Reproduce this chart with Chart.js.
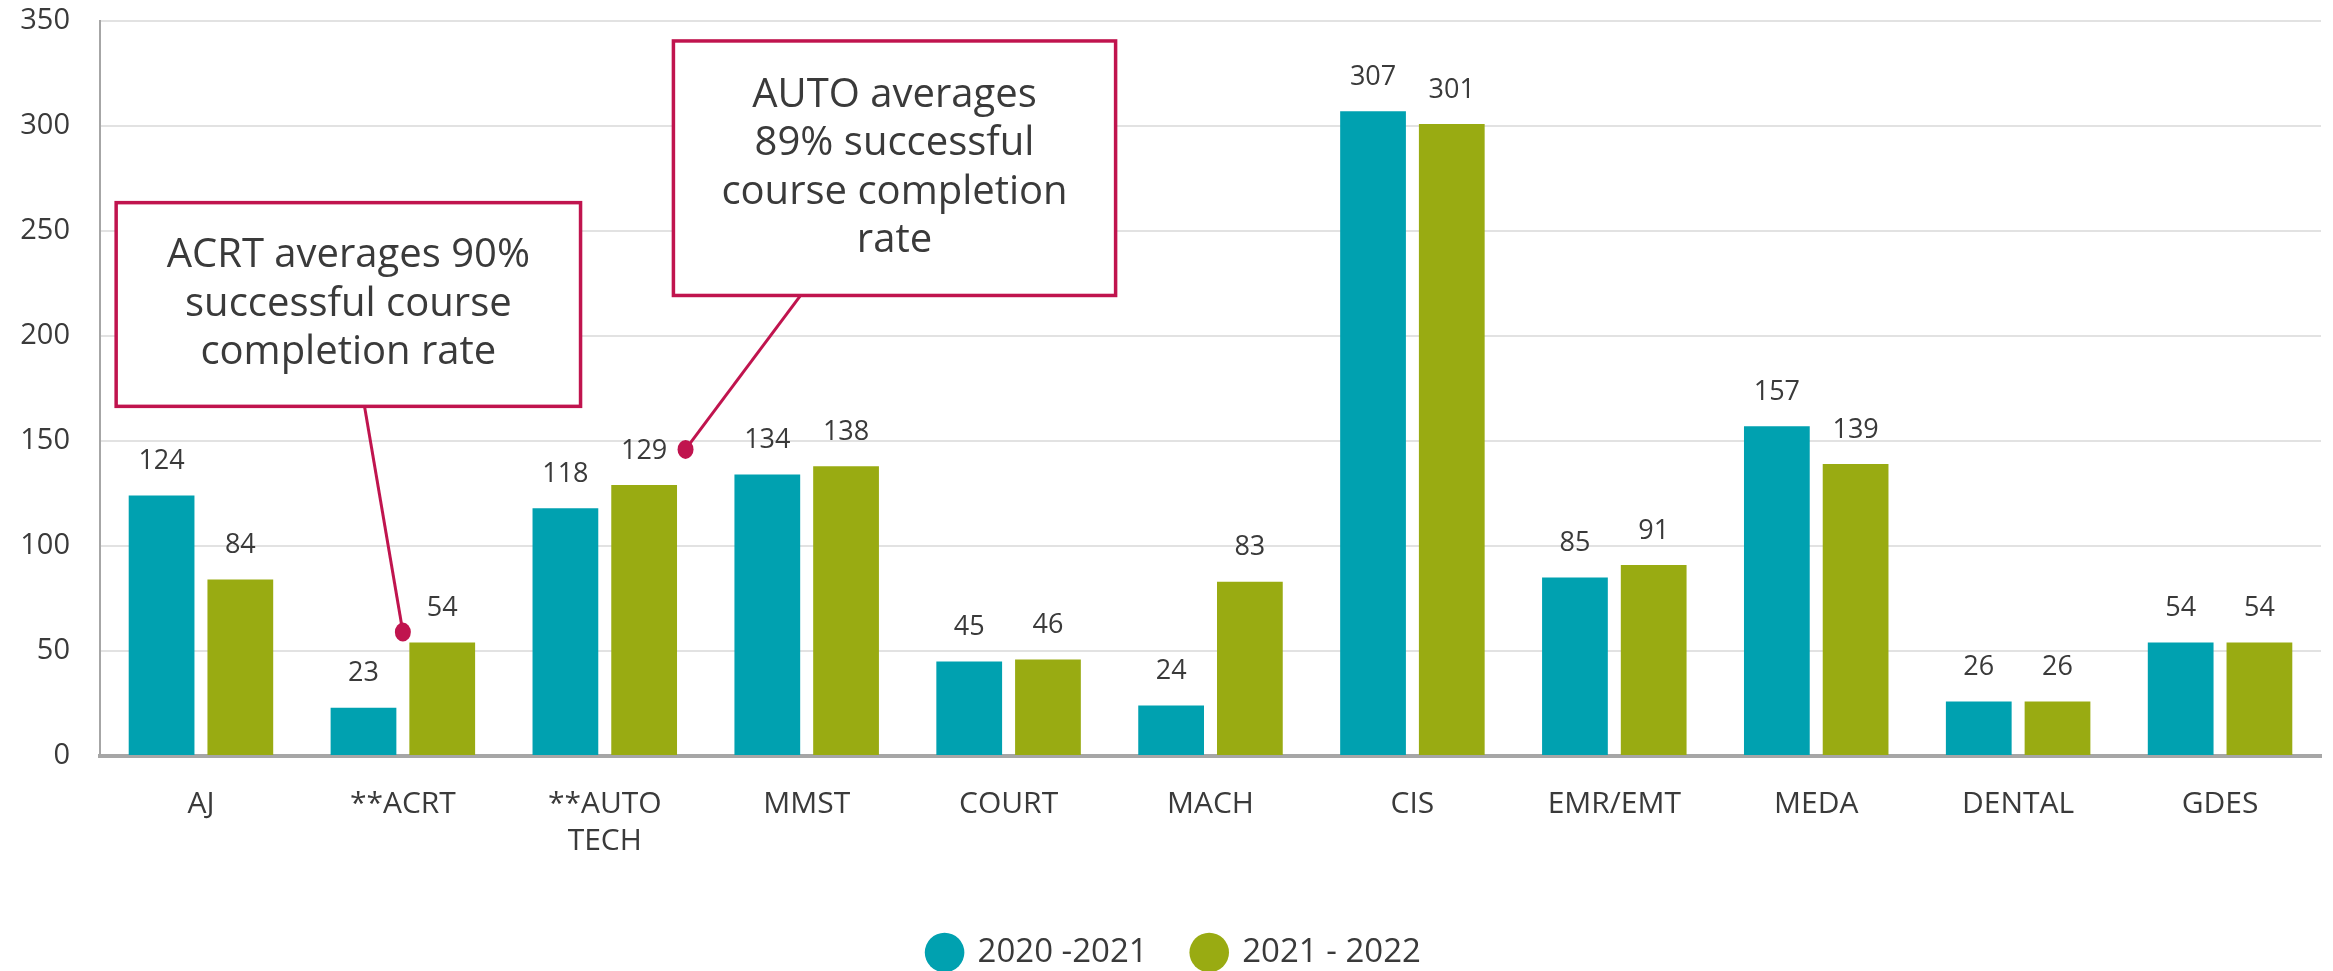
<!DOCTYPE html>
<html>
<head>
<meta charset="utf-8">
<script src="https://cdn.jsdelivr.net/npm/chart.js@4"></script>
<style>
  html, body { margin: 0; padding: 0; background: #fff; }
  #wrap { width: 2333px; height: 971px; position: relative; }
</style>
</head>
<body>
<div id="wrap"><canvas id="chart"></canvas></div>
<script>
// ===== Program enrolment by year =====

const programs = ['AJ', '**ACRT', ['**AUTO', 'TECH'], 'MMST', 'COURT', 'MACH', 'CIS', 'EMR/EMT', 'MEDA', 'DENTAL', 'GDES'];
const year2021 = [124, 23, 118, 134, 45, 24, 307, 85, 157, 26, 54];
const year2022 = [84, 54, 129, 138, 46, 83, 301, 91, 139, 26, 54];
const seriesNames = ['2020 -2021', '2021 - 2022'];
const yTicks = [0, 50, 100, 150, 200, 250, 300, 350];

// callouts: box given in category units (x) and value units (y)
const callouts = [
    {
        lines: ['ACRT averages 90%', 'successful course', 'completion rate'],
        box: { x0: -0.42, x1: 1.88, yTop: 263.5, yBottom: 166.5 },
        stemFrom: 0.81,
        dot: { x: 1.0, y: 59 },
    },
    {
        lines: ['AUTO averages', '89% successful', 'course completion', 'rate'],
        box: { x0: 2.34, x1: 4.53, yTop: 340.5, yBottom: 219.3 },
        stemFrom: 2.97,
        dot: { x: 2.4, y: 146 },
    },
];

const FONT = '"Open Sans", sans-serif';
const TEXT = '#3a3a3a';
const TEAL = '#00a1b0';
const OLIVE = '#99ab12';
const CRIMSON = '#c0144e';

/** Value labels above each bar */
const barLabels = {
    id: 'barLabels',
    afterDatasetsDraw(chart) {
        const ctx = chart.ctx;
        ctx.save();
        ctx.font = `27px ${FONT}`;
        ctx.fillStyle = TEXT;
        ctx.textAlign = 'center';
        ctx.textBaseline = 'middle';
        chart.data.datasets.forEach((ds, i) => {
            chart.getDatasetMeta(i).data.forEach((bar, j) => {
                ctx.fillText(ds.data[j], bar.x, bar.y - 34);
            });
        });
        ctx.restore();
    },
};

/** Callout boxes with stem + dot */
const calloutPlugin = {
    id: 'callouts',
    afterDraw(chart) {
        const { ctx, scales: { x, y } } = chart;
        const cat = x.width / programs.length;
        const px = (v) => x.left + (v + 0.5) * cat;
        ctx.save();
        callouts.forEach(c => {
            const left = px(c.box.x0), right = px(c.box.x1);
            const top = y.getPixelForValue(c.box.yTop);
            const bottom = y.getPixelForValue(c.box.yBottom);
            const dx = px(c.dot.x), dy = y.getPixelForValue(c.dot.y);

            ctx.strokeStyle = CRIMSON;
            ctx.lineWidth = 3;
            ctx.beginPath();
            ctx.moveTo(px(c.stemFrom), bottom);
            ctx.lineTo(dx, dy);
            ctx.stroke();

            ctx.fillStyle = CRIMSON;
            ctx.beginPath();
            ctx.ellipse(dx, dy, 8, 9.5, 0, 0, Math.PI * 2);
            ctx.fill();

            ctx.fillStyle = '#fff';
            ctx.fillRect(left, top, right - left, bottom - top);
            ctx.lineWidth = 3.5;
            ctx.strokeRect(left, top, right - left, bottom - top);

            ctx.fillStyle = TEXT;
            ctx.font = `40px ${FONT}`;
            ctx.textAlign = 'center';
            ctx.textBaseline = 'middle';
            const lh = 48.5;
            const cy = (top + bottom) / 2;
            const cx = (left + right) / 2;
            c.lines.forEach((t, k) => {
                ctx.fillText(t, cx, cy + (k - (c.lines.length - 1) / 2) * lh);
            });
        });
        ctx.restore();
    },
};

/** nudge the legend a little right, like the original */
const legendShift = {
    id: 'legendShift',
    afterLayout(chart) {
        if (!chart.legend) return;
        chart.legend.left += 14;
        chart.legend.right += 14;
    },
};

new Chart(document.getElementById('chart'), {
    type: 'bar',
    data: {
        labels: programs,
        datasets: [
            { label: seriesNames[0], data: year2021, backgroundColor: TEAL },
            { label: seriesNames[1], data: year2022, backgroundColor: OLIVE },
        ],
    },
    options: {
        responsive: true,
        maintainAspectRatio: false,
        animation: false,
        devicePixelRatio: 1,
        layout: { padding: { top: 21, right: 12, bottom: -8, left: 0 } },
        datasets: {
            bar: { categoryPercentage: 0.78, barPercentage: 0.835 },
        },
        plugins: {
            tooltip: { enabled: false },
            legend: {
                position: 'bottom',
                labels: {
                    usePointStyle: true,
                    pointStyle: 'circle',
                    boxWidth: 33,
                    boxHeight: 28,
                    padding: 45,
                    color: TEXT,
                    font: { size: 33, family: FONT },
                },
            },
        },
        scales: {
            x: {
                grid: { display: false },
                border: { color: '#a6a6a6', width: 4 },
                ticks: {
                    color: TEXT,
                    font: { size: 30, family: FONT, lineHeight: 1.23 },
                    padding: 22,
                    maxRotation: 0,
                    autoSkip: false,
                },
                afterFit(scale) { scale.height = 135; },
            },
            y: {
                min: 0,
                max: 350,
                afterBuildTicks(scale) { scale.ticks = yTicks.map(v => ({ value: v })); },
                grid: { color: '#e2e2e2', lineWidth: 2, drawTicks: false },
                border: { color: '#a6a6a6', width: 2 },
                ticks: {
                    color: TEXT,
                    font: { size: 29, family: FONT },
                    padding: 30,
                },
                afterFit(scale) {
                    scale.width = 100;
                    scale.paddingTop = 0;
                    scale.paddingBottom = 0;
                },
            },
        },
    },
    plugins: [barLabels, calloutPlugin, legendShift],
});
</script>
</body>
</html>
